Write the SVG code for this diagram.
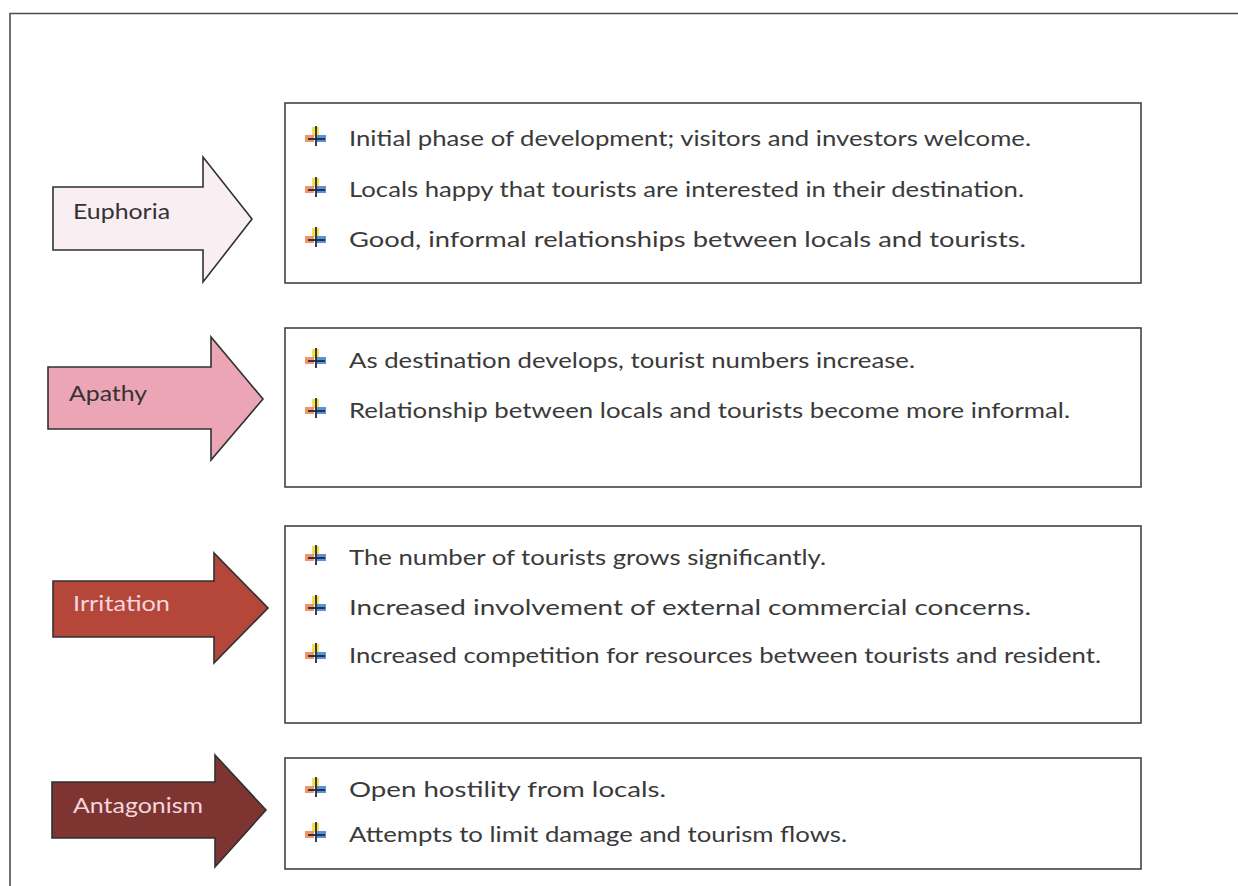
<svg xmlns="http://www.w3.org/2000/svg" width="1238" height="886" viewBox="0 0 1238 886">
  <defs>
    <style>
      .frame { fill: none; stroke: #4a4f4f; stroke-width: 1.6; }
      .box { fill: #ffffff; stroke: #3f4444; stroke-width: 1.6; }
      .arrow { stroke: #2e3232; stroke-width: 1.6; stroke-linejoin: miter; }
      .item { font-family: Lato, "Liberation Sans", Arial, sans-serif; font-size: 21px; fill: #3a3a3a; }
      .label { font-family: Lato, "Liberation Sans", Arial, sans-serif; font-size: 21px; }
      .dark { fill: #333333; }
      .light { fill: #f4d6de; }
    </style>
    <filter id="soft" x="-20%" y="-20%" width="140%" height="140%">
      <feGaussianBlur stdDeviation="0.6"/>
    </filter>
    <!-- coloured down-arrow bullet, centred on its own origin -->
    <g id="bullet">
      <g filter="url(#soft)">
        <rect x="-4" y="-10" width="7" height="9" fill="#f7e04a"/>
        <rect x="-11" y="-2" width="9" height="7" fill="#f08a5a" opacity="0.9"/>
        <rect x="0" y="-2" width="10" height="7" fill="#4a86d0" opacity="0.9"/>
      </g>
      <line x1="0" y1="-11" x2="0" y2="9" stroke="#1f2a44" stroke-width="1.8"/>
      <line x1="-8" y1="2" x2="9" y2="2" stroke="#1f2a44" stroke-width="1.8"/>
    </g>
  </defs>

  <rect width="1238" height="886" fill="#ffffff"/>

  <!-- outer frame -->
  <path class="frame" d="M10,886 L10,13.5 L1238,13.5"/>

  <!-- stage: Euphoria -->
  <g id="euphoria">
    <polygon class="arrow" fill="#f9eef2" points="53,187 203,187 203,157 252,219 203,282 203,250 53,250"/>
    <text class="label dark" x="73" y="219" textLength="97" lengthAdjust="spacingAndGlyphs">Euphoria</text>
  </g>
  <g id="euphoria-notes">
    <rect class="box" x="285" y="103" width="856" height="180"/>
    <use href="#bullet" x="316" y="137"/>
    <text class="item" x="349" y="146" textLength="682" lengthAdjust="spacingAndGlyphs">Initial phase of development; visitors and investors welcome.</text>
    <use href="#bullet" x="316" y="188"/>
    <text class="item" x="349" y="197" textLength="675" lengthAdjust="spacingAndGlyphs">Locals happy that tourists are interested in their destination.</text>
    <use href="#bullet" x="316" y="238"/>
    <text class="item" x="349" y="247" textLength="677" lengthAdjust="spacingAndGlyphs">Good, informal relationships between locals and tourists.</text>
  </g>

  <!-- stage: Apathy -->
  <g id="apathy">
    <polygon class="arrow" fill="#eba5b5" points="48,367 211,367 211,337 263,399 211,460 211,429 48,429"/>
    <text class="label dark" x="69" y="401" textLength="78" lengthAdjust="spacingAndGlyphs">Apathy</text>
  </g>
  <g id="apathy-notes">
    <rect class="box" x="285" y="328" width="856" height="159"/>
    <use href="#bullet" x="316" y="359"/>
    <text class="item" x="349" y="368" textLength="566" lengthAdjust="spacingAndGlyphs">As destination develops, tourist numbers increase.</text>
    <use href="#bullet" x="316" y="409"/>
    <text class="item" x="349" y="418" textLength="721" lengthAdjust="spacingAndGlyphs">Relationship between locals and tourists become more informal.</text>
  </g>

  <!-- stage: Irritation -->
  <g id="irritation">
    <polygon class="arrow" fill="#b4463a" points="53,581 214,581 214,553 268,608 214,663 214,637 53,637"/>
    <text class="label light" x="73" y="611" textLength="97" lengthAdjust="spacingAndGlyphs">Irritation</text>
  </g>
  <g id="irritation-notes">
    <rect class="box" x="285" y="526" width="856" height="197"/>
    <use href="#bullet" x="316" y="556"/>
    <text class="item" x="349" y="565" textLength="477" lengthAdjust="spacingAndGlyphs">The number of tourists grows significantly.</text>
    <use href="#bullet" x="316" y="606"/>
    <text class="item" x="349" y="615" textLength="682" lengthAdjust="spacingAndGlyphs">Increased involvement of external commercial concerns.</text>
    <use href="#bullet" x="316" y="654"/>
    <text class="item" x="349" y="663" textLength="752" lengthAdjust="spacingAndGlyphs">Increased competition for resources between tourists and resident.</text>
  </g>

  <!-- stage: Antagonism -->
  <g id="antagonism">
    <polygon class="arrow" fill="#7e3430" points="52,782 215,782 215,755 266,810 215,867 215,838 52,838"/>
    <text class="label light" x="73" y="813" textLength="130" lengthAdjust="spacingAndGlyphs">Antagonism</text>
  </g>
  <g id="antagonism-notes">
    <rect class="box" x="285" y="758" width="856" height="111"/>
    <use href="#bullet" x="316" y="788"/>
    <text class="item" x="349" y="797" textLength="317" lengthAdjust="spacingAndGlyphs">Open hostility from locals.</text>
    <use href="#bullet" x="316" y="833"/>
    <text class="item" x="349" y="842" textLength="498" lengthAdjust="spacingAndGlyphs">Attempts to limit damage and tourism flows.</text>
  </g>

  <!-- no connectors beyond the stage arrows -->
  <g id="connectors"/>
</svg>
